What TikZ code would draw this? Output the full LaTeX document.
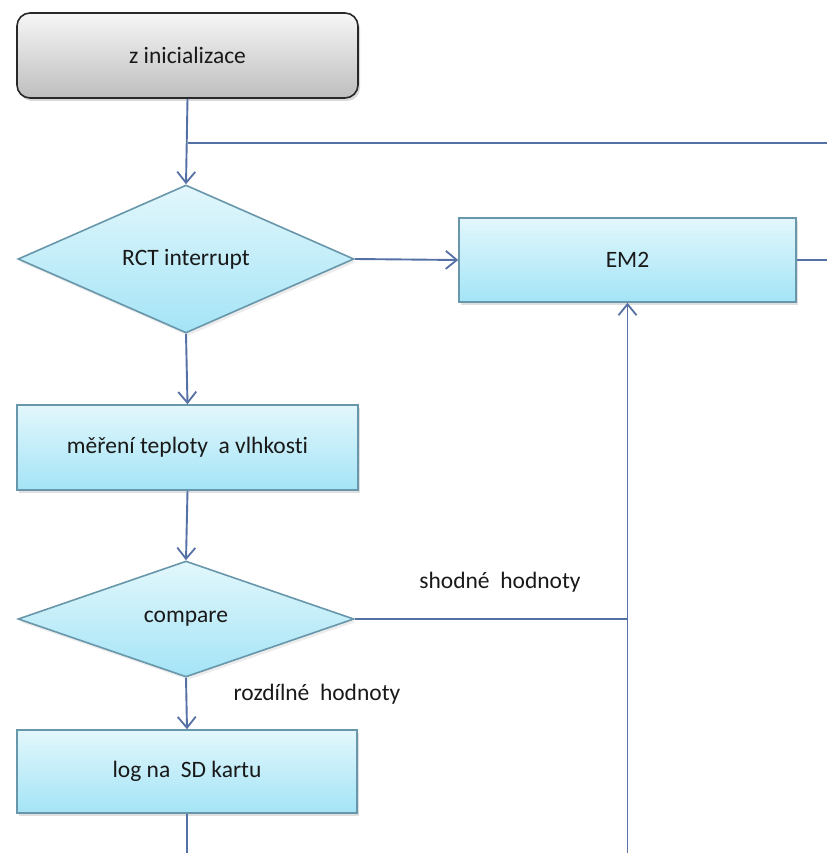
\documentclass[tikz,border=0pt]{standalone}
\usepackage{fontspec}
\setmainfont{Carlito}[Ligatures={NoCommon}]
\usetikzlibrary{shapes.geometric,arrows.meta,shadows}

\definecolor{linec}{RGB}{84,112,164}
\definecolor{boxedge}{RGB}{104,150,170}
\definecolor{boxtop}{RGB}{226,247,252}
\definecolor{boxbot}{RGB}{164,228,246}
\definecolor{grayedge}{RGB}{40,40,40}
\definecolor{graytop}{RGB}{246,246,246}
\definecolor{graybot}{RGB}{190,190,190}
\definecolor{txt}{RGB}{25,25,25}

\tikzset{
  flowtext/.style={font=\fontsize{23.5}{28}\selectfont, text=txt},
  procbox/.style={flowtext, rectangle, draw=boxedge, line width=1.6pt,
    top color=boxtop, bottom color=boxbot, inner sep=0pt,
    drop shadow={opacity=0.25, shadow xshift=2pt, shadow yshift=-3pt}},
  startbox/.style={flowtext, rectangle, rounded corners=13pt, draw=grayedge,
    line width=1.6pt, top color=graytop, bottom color=graybot, inner sep=0pt,
    drop shadow={opacity=0.3, shadow xshift=2pt, shadow yshift=-3pt}},
  decision/.style={flowtext, diamond, draw=boxedge, line width=1.6pt,
    top color=boxtop, bottom color=boxbot, inner sep=0pt,
    drop shadow={opacity=0.15, shadow xshift=2pt, shadow yshift=-3pt}},
  flow/.style={draw=linec, line width=1.9pt},
  flowarrow/.style={flow, -{Straight Barb[length=11pt, width=18pt, line width=1.8pt]}},
  edgelabel/.style={flowtext}
}

\begin{document}
\begin{tikzpicture}[x=1pt, y=-1pt]
\useasboundingbox (0,0) rectangle (827,853);

% nodes
\node[startbox, minimum width=341pt, minimum height=85pt] (init) at (187.5,55.5) {z inicializace};
\node[decision, minimum width=336pt, minimum height=148pt] (rct) at (186,259) {RCT interrupt};
\node[procbox, minimum width=337pt, minimum height=84pt] (em2) at (627.5,260) {EM2};
\node[procbox, minimum width=341pt, minimum height=85pt] (mer) at (187.5,447.5) {měření teploty\ \ a vlhkosti};
\node[decision, minimum width=336pt, minimum height=116pt] (cmp) at (186,619) {compare};
\node[procbox, minimum width=340pt, minimum height=83pt] (log) at (187,771.5) {log na\ \ SD kartu};

% junctions and free ends (the bottom return runs along the lower edge)
\coordinate (jtop) at (init.south |- 0,143);
\coordinate (rtop) at (827,143);
\coordinate (rem) at (827,260);
\coordinate (jcmp) at (em2.south |- cmp.east);
\coordinate (blog) at (log.south |- 0,853.8);
\coordinate (bem) at (em2.south |- 0,853.8);

% connectors
\draw[flowarrow] (init.south) -- (rct.north);
\draw[flow] (jtop) -- (rtop);
\draw[flowarrow] (rct.east) -- (em2.west);
\draw[flow] (em2.east) -- (rem);
\draw[flowarrow] (rct.south) -- (mer.north);
\draw[flowarrow] (mer.south) -- (cmp.north);
\draw[flowarrow] (cmp.south) -- (log.north);
\draw[flow] (cmp.east) -- (jcmp);
\draw[flowarrow] (log.south) -- (blog) -- (bem) -- (em2.south);

% branch labels
\node[edgelabel] (lsame) at (500,582) {shodné\ \ hodnoty};
\node[edgelabel] (ldiff) at (317,694) {rozdílné\ \ hodnoty};
\end{tikzpicture}
\end{document}
